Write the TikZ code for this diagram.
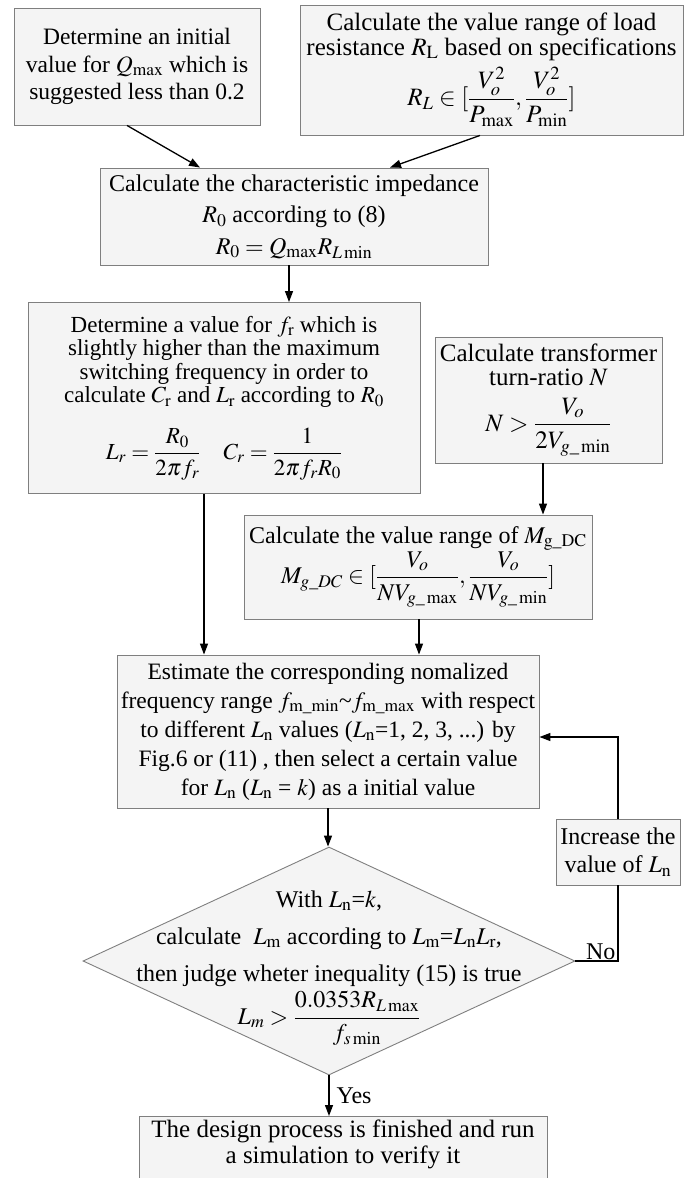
\documentclass[tikz,border=0pt]{standalone}
\usepackage{amsmath}
\usepackage{mathptmx}
\usepackage{fontspec}
\setmainfont{Liberation Serif}
\usetikzlibrary{arrows.meta,shapes.geometric,calc}
\definecolor{boxfill}{HTML}{F4F4F4}
\definecolor{boxline}{HTML}{7F7F7F}
\begin{document}
\begin{tikzpicture}[x=1pt,y=-1pt,
  box/.style={draw=boxline, fill=boxfill, line width=0.9pt, inner sep=0pt,
              align=center, font=\fontsize{24}{24}\selectfont},
  decision/.style={diamond, draw=boxline, fill=boxfill, line width=0.9pt,
              inner sep=0pt, minimum width=492pt, minimum height=228pt},
  arr/.style={line width=1.3pt, -{Triangle[length=11pt,width=8pt]}},
  link/.style={line width=1.3pt},
  lbl/.style={font=\fontsize{24}{24}\selectfont, inner sep=0pt, align=center}
]
\useasboundingbox (0,0) rectangle (686,1178);
\clip (0,0) rectangle (686,1178);

% input boxes
\node[box, minimum width=246pt, minimum height=117pt,
      font=\fontsize{23.5}{27.5}\selectfont] (qmax) at (137,66.5)
  {Determine an initial\\ value for $Q_{\mathrm{max}}$ which is\\ suggested less than 0.2};
\node[box, minimum width=383pt, minimum height=130pt,
      font=\fontsize{25}{24.5}\selectfont] (rl) at (491.5,70)
  {Calculate the value range of load\\ resistance $R_{\mathrm{L}}$ based on specifications\\[6pt]
   $R_L\in[\dfrac{V_o^2}{P_{\max}},\dfrac{V_o^2}{P_{\min}}]$};

% characteristic impedance
\node[box, minimum width=388pt, minimum height=97pt,
      font=\fontsize{24}{31.5}\selectfont] (rzero) at (294,216.5)
  {Calculate the characteristic impedance\\ $R_0$ according to (8)\\ $R_0=Q_{\max}R_{L\min}$};

% resonant tank
\node[box, minimum width=392pt, minimum height=191pt,
      font=\fontsize{23}{23.5}\selectfont] (tank) at (224,398)
  {Determine a value for $f_{\mathrm{r}}$ which is\\ slightly higher than the maximum\\
   switching frequency in order to\\ calculate $C_{\mathrm{r}}$ and $L_{\mathrm{r}}$ according to $R_0$\\[20pt]
   $L_r=\dfrac{R_0}{2\pi f_r}\quad C_r=\dfrac{1}{2\pi f_r R_0}$};

% transformer
\node[box, minimum width=227pt, minimum height=126pt,
      font=\fontsize{25}{24}\selectfont] (turns) at (548.5,400)
  {Calculate transformer\\ turn-ratio $N$\\[11pt] $N>\dfrac{V_o}{2V_{g\_\min}}$};

% gain range
\node[box, minimum width=348pt, minimum height=104pt] (gain) at (418,567)
  {Calculate the value range of $M_{\mathrm{g\_DC}}$\\
   $M_{g\_DC}\in[\dfrac{V_o}{NV_{g\_\max}},\dfrac{V_o}{NV_{g\_\min}}]$};

% frequency range estimate
\node[box, minimum width=422pt, minimum height=153pt,
      font=\fontsize{23.5}{29}\selectfont] (est) at (328,731.5)
  {Estimate the corresponding nomalized\\
   frequency range $f_{\mathrm{m\_min}}$\textasciitilde$f_{\mathrm{m\_max}}$ with respect\\
   to different $L_{\mathrm{n}}$ values ($L_{\mathrm{n}}$=1, 2, 3, ...) by\\
   Fig.6 or (11) , then select a certain value\\
   for $L_{\mathrm{n}}$ ($L_{\mathrm{n}}$ = $k$) as a initial value};

% loop-back box
\node[box, minimum width=124pt, minimum height=66pt,
      font=\fontsize{24}{28}\selectfont] (inc) at (618,852)
  {Increase the\\ value of $L_{\mathrm{n}}$};

% decision
\node[decision] (dec) at (329,961) {};
\node[lbl, font=\fontsize{24}{37}\selectfont] (dectext) at (329,968)
  {With $L_{\mathrm{n}}$=$k$,\\
   calculate\ \ $L_{\mathrm{m}}$ according to $L_{\mathrm{m}}$=$L_{\mathrm{n}}L_{\mathrm{r}}$,\\
   then judge wheter inequality (15) is true\\[4pt]
   $L_m>\dfrac{0.0353R_{L\max}}{f_{s\min}}$};

% end box
\node[box, minimum width=408pt, minimum height=80pt, anchor=north] (fin) at (343,1116) {};
\node[lbl, font=\fontsize{25}{26}\selectfont, anchor=north] (fintext) at ([yshift=-4pt]fin.north)
  {The design process is finished and run\\ a simulation to verify it};

% connectors
\draw[arr] ([xshift=-10pt]qmax.south) -- ([xshift=-94pt]rzero.north);
\draw[arr] ([xshift=-11.5pt]rl.south) -- ([xshift=96pt]rzero.north);
\draw[arr] ([xshift=-5pt]rzero.south) -- ([xshift=-5pt]rzero.south |- tank.north);
\draw[arr] ([xshift=-20pt]tank.south) -- ([xshift=-20pt]tank.south |- est.north);
\draw[arr] ([xshift=-5.5pt]turns.south) -- ([xshift=-5.5pt]turns.south |- gain.north);
\draw[arr] ([xshift=1pt]gain.south) -- ([xshift=1pt]gain.south |- est.north);
\draw[arr] (est.south) -- (est.south |- dec.north);
\draw[arr] (dec.south) -- (dec.south |- fin.north)
  node[lbl, midway, anchor=west, xshift=7pt] {Yes};
\draw[link] (dec.east) -- (inc.south |- dec.east)
  node[lbl, anchor=south east, xshift=-2pt, yshift=1pt] {No}
  -- (inc.south);
\draw[arr] (inc.north) |- ([yshift=-5.5pt]est.east);
\end{tikzpicture}
\end{document}
